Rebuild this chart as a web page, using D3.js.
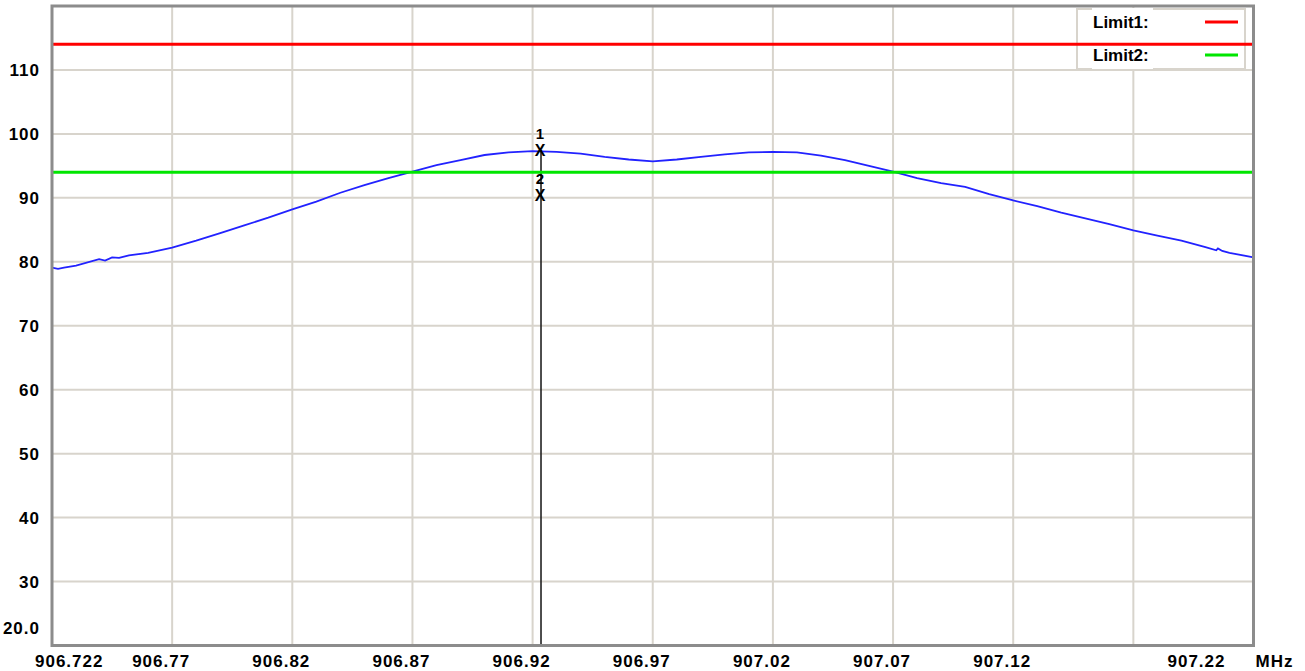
<!DOCTYPE html>
<html>
<head>
<meta charset="utf-8">
<script src="https://cdn.jsdelivr.net/npm/d3@7"></script>
<style>
  html, body { margin: 0; padding: 0; background: #fff; }
  svg { display: block; }
  text { font-family: "Liberation Sans", Arial, sans-serif; font-weight: bold; fill: #000; }
</style>
</head>
<body>
<div id="chart"></div>
<script>
// sweep (MHz) and measured level
const freqs = [906.722, 906.7245, 906.727, 906.732, 906.7416, 906.7441, 906.747, 906.7499, 906.754,
  906.762, 906.772, 906.782, 906.792, 906.802, 906.812, 906.822, 906.832, 906.842, 906.852,
  906.862, 906.872, 906.882, 906.892, 906.902, 906.912, 906.922, 906.932, 906.942, 906.952,
  906.962, 906.972, 906.982, 906.992, 907.002, 907.012, 907.022, 907.032, 907.042, 907.052,
  907.062, 907.072, 907.082, 907.092, 907.102, 907.112, 907.122, 907.132, 907.142, 907.152,
  907.162, 907.172, 907.182, 907.192, 907.202, 907.2065, 907.2072, 907.209, 907.212, 907.222];
const levels = [79.1, 78.9, 79.1, 79.4, 80.4, 80.2, 80.7, 80.6, 81.0,
  81.4, 82.2, 83.3, 84.5, 85.7, 86.9, 88.2, 89.4, 90.8, 92.0,
  93.1, 94.1, 95.1, 95.9, 96.7, 97.1, 97.3, 97.2, 96.9, 96.4,
  96.0, 95.7, 96.0, 96.4, 96.8, 97.1, 97.2, 97.1, 96.6, 95.9,
  95.0, 94.1, 93.1, 92.3, 91.7, 90.6, 89.6, 88.7, 87.7, 86.8,
  85.9, 84.9, 84.1, 83.3, 82.3, 81.8, 82.1, 81.7, 81.4, 80.7];

const xTicks = [906.722, 906.772, 906.822, 906.872, 906.922, 906.972, 907.022, 907.072, 907.122, 907.172, 907.222];
const xLabels = ["906.722", "906.77", "906.82", "906.87", "906.92", "906.97", "907.02", "907.07", "907.12", "", "907.22"];
const yTicks = [20, 30, 40, 50, 60, 70, 80, 90, 100, 110, 120];
const yLabels = ["20.0", "30", "40", "50", "60", "70", "80", "90", "100", "110", ""];

const limitNames = ["Limit1:", "Limit2:"];
const limitValues = [114, 94];
const limitColors = ["#ff0000", "#00e600"];

const markerNames = ["1", "2"];
const markerFreqs = [906.9255, 906.9255];
const markerLevels = [97.5, 90.5];

const W = 1305, H = 671;
const pL = 52, pR = 1253.5, pT = 6, pB = 645.5;

const x = d3.scaleLinear().domain([906.722, 907.222]).range([pL, pR]);
const y = d3.scaleLinear().domain([20, 120]).range([pB, pT]);

const svg = d3.select("#chart").append("svg")
  .attr("width", W).attr("height", H);

// grid
svg.append("g").selectAll("line").data(xTicks.slice(1, -1)).enter().append("line")
  .attr("x1", d => x(d)).attr("x2", d => x(d))
  .attr("y1", pT).attr("y2", pB)
  .attr("stroke", "#d8d4cc").attr("stroke-width", 2);
svg.append("g").selectAll("line").data(yTicks.slice(1, -1)).enter().append("line")
  .attr("x1", pL).attr("x2", pR)
  .attr("y1", d => y(d)).attr("y2", d => y(d))
  .attr("stroke", "#d8d4cc").attr("stroke-width", 2);

// legend box (under the limit lines)
const lg = svg.append("g");
lg.append("rect")
  .attr("x", 1077).attr("y", 9).attr("width", 168).attr("height", 60)
  .attr("fill", "#fff").attr("stroke", "#d8d4cc").attr("stroke-width", 2);

// trace
const line = d3.line().x((d, i) => x(freqs[i])).y(d => y(d));
svg.append("path").datum(levels)
  .attr("d", line)
  .attr("fill", "none").attr("stroke", "#2222ff").attr("stroke-width", 1.8);

// marker line
svg.append("line")
  .attr("x1", x(markerFreqs[0])).attr("x2", x(markerFreqs[0]))
  .attr("y1", y(markerLevels[0])).attr("y2", pB)
  .attr("stroke", "#222").attr("stroke-width", 1.6);

// markers
const mk = svg.append("g").selectAll("g").data(markerNames).enter().append("g");
mk.append("text")
  .attr("x", (d, i) => x(markerFreqs[i]) - 1)
  .attr("y", (d, i) => y(markerLevels[i]) + 6)
  .attr("text-anchor", "middle")
  .style("font-size", "16px")
  .text("X");
mk.append("text")
  .attr("x", (d, i) => x(markerFreqs[i]) - 1)
  .attr("y", (d, i) => y(markerLevels[i]) - 11)
  .attr("text-anchor", "middle")
  .style("font-size", "15px")
  .text(d => d);

// limit lines
svg.append("g").selectAll("line").data(limitValues).enter().append("line")
  .attr("x1", pL).attr("x2", pR)
  .attr("y1", d => y(d)).attr("y2", d => y(d))
  .attr("stroke", (d, i) => limitColors[i]).attr("stroke-width", 3);

// legend entries
const le = lg.selectAll("g.entry").data(limitNames).enter().append("g").attr("class", "entry")
  .attr("transform", (d, i) => `translate(0, ${22 + i * 33})`);
le.append("rect")
  .attr("x", 1092).attr("y", -14).attr("width", 61).attr("height", 28)
  .attr("fill", "#fff");
le.append("text")
  .attr("x", 1093).attr("y", 6)
  .style("font-size", "17px")
  .text(d => d);
le.append("line")
  .attr("x1", 1205).attr("x2", 1238).attr("y1", 0).attr("y2", 0)
  .attr("stroke", (d, i) => limitColors[i]).attr("stroke-width", 3);
le.raise();

// frame
svg.append("rect")
  .attr("x", pL).attr("y", pT).attr("width", pR - pL).attr("height", pB - pT)
  .attr("fill", "none").attr("stroke", "#8c8c8c").attr("stroke-width", 3);

// y labels
svg.append("g").selectAll("text").data(yTicks).enter().append("text")
  .attr("x", 40)
  .attr("y", (d, i) => (i === 0 ? y(d) - 18 : y(d)) + 6)
  .attr("text-anchor", "end")
  .style("font-size", "17px").style("letter-spacing", "1px")
  .text((d, i) => yLabels[i]);

// x labels
svg.append("g").selectAll("text").data(xTicks).enter().append("text")
  .attr("x", (d, i) => i === 0 ? x(d) - 17 : (i === xTicks.length - 1 ? x(d) - 28 : x(d) - 40))
  .attr("y", 667)
  .attr("text-anchor", (d, i) => i === xTicks.length - 1 ? "end" : "start")
  .style("font-size", "17px").style("letter-spacing", "1px")
  .text((d, i) => xLabels[i]);

svg.append("text")
  .attr("x", pR + 2).attr("y", 667)
  .style("font-size", "17px").style("letter-spacing", "1px")
  .text("MHz");
</script>
</body>
</html>
